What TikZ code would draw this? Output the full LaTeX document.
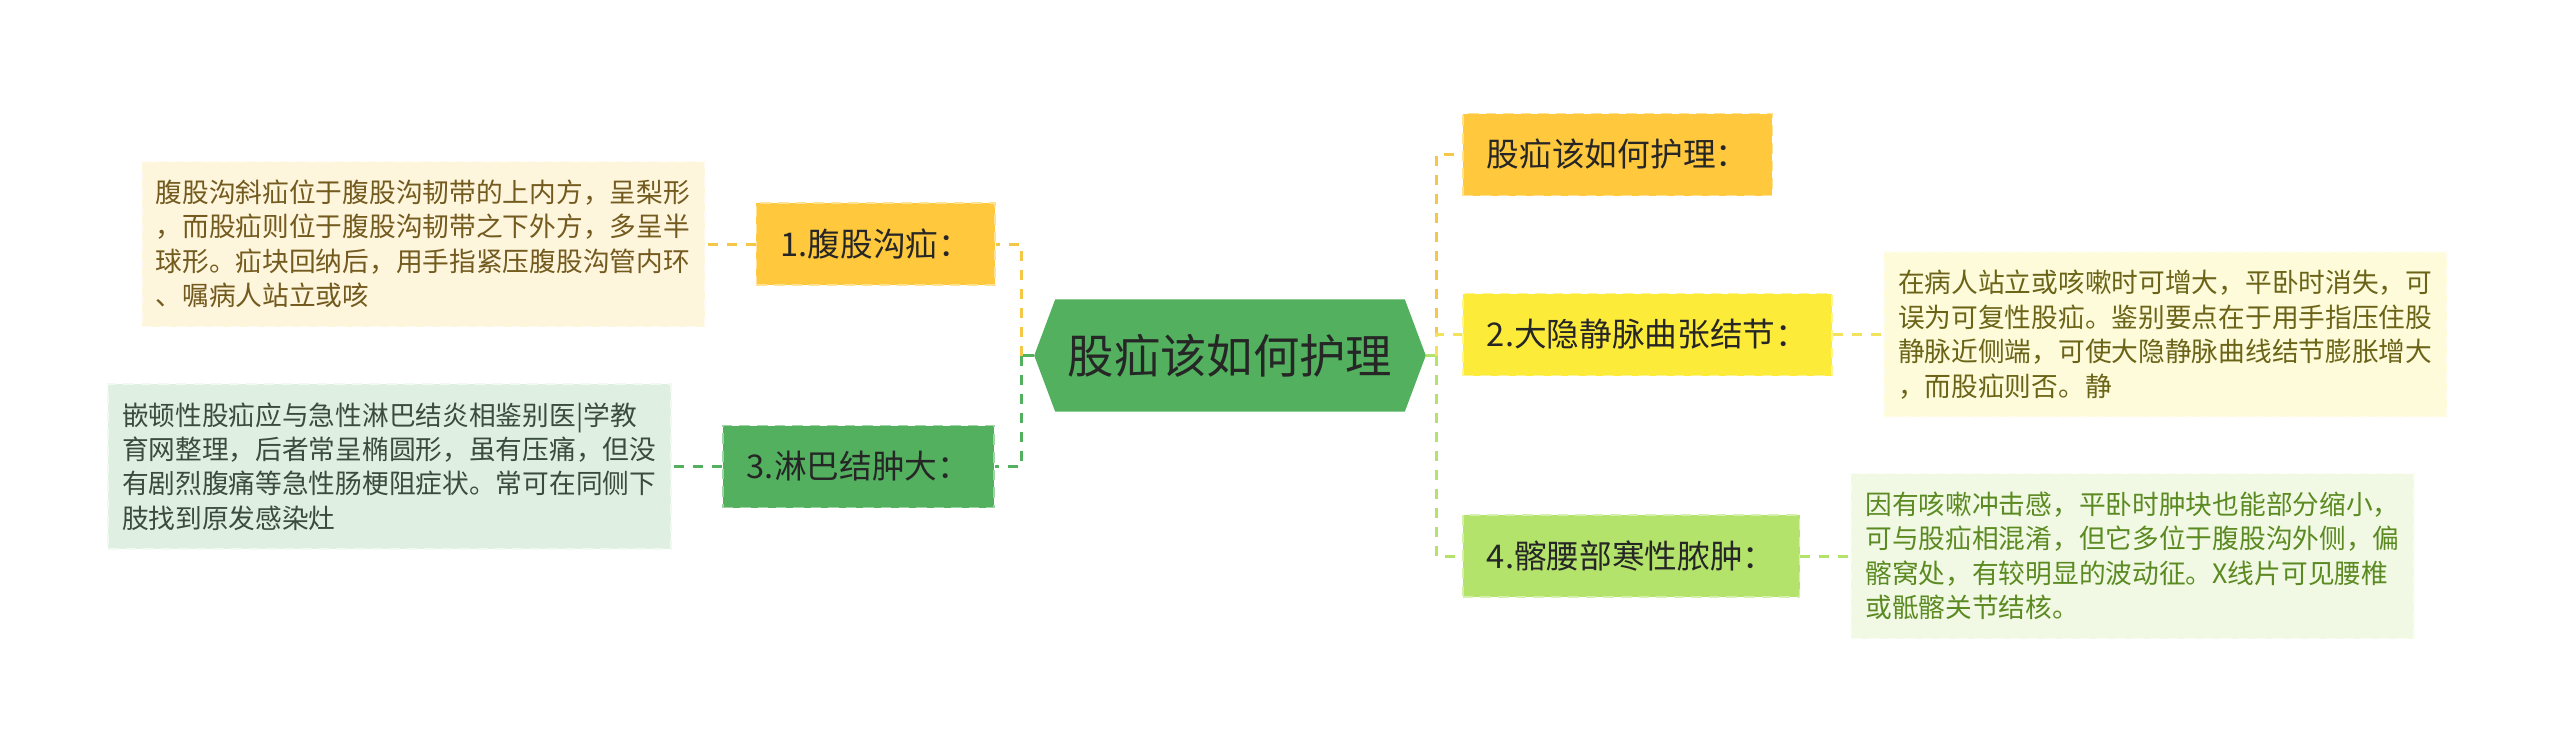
\documentclass[tikz,border=0pt]{standalone}
\usepackage{fontspec}
\usepackage{xcolor}
\usepackage{tikz}
\usetikzlibrary{positioning,backgrounds}
\newfontfamily\cjk{Noto Sans CJK SC}
\definecolor{taggreen}{HTML}{52B05E}
\definecolor{tagorange}{HTML}{FFC83D}
\definecolor{tagyellow}{HTML}{FDEB3A}
\definecolor{taglime}{HTML}{B3E36A}
\definecolor{linkorange}{HTML}{F5C746}
\definecolor{linkyellow}{HTML}{F2E35A}
\definecolor{notecream}{HTML}{FEF5DD}
\definecolor{notemint}{HTML}{DFF0E2}
\definecolor{notelemon}{HTML}{FEFBDA}
\definecolor{notepale}{HTML}{F1F9E4}
\definecolor{inkbrown}{HTML}{735A1E}
\definecolor{inkmoss}{HTML}{3A4D3D}
\definecolor{inkolive}{HTML}{6B6418}
\definecolor{inkleaf}{HTML}{5C8A22}

\begin{document}
\begin{tikzpicture}[node distance=0.5cm, every node/.style={font=\cjk},
    tagbox/.style={fill=#1, draw=#1!55!white, dash pattern=on 3pt off 2pt, line width=0.5pt, minimum height=0.82cm, inner xsep=0.24cm, text=black!85, font=\cjk\fontsize{9.3pt}{11pt}\selectfont},
    notebox/.style 2 args={fill=#1, draw=#1!40!white, dash pattern=on 3pt off 2pt, line width=0.5pt, text=#2, text width=5.35cm, inner xsep=0.14cm, minimum height=1.65cm, align=left, font=\cjk\fontsize{7.6pt}{9.8pt}\selectfont},
    link/.style={dash pattern=on 0.1cm off 0.09cm, line width=0.03cm}]
  \useasboundingbox (0,0) rectangle (25.6,-7.53);
  \node[minimum width=3.33cm, minimum height=1.11cm, text=black!85, font=\cjk\fontsize{13.2pt}{15pt}\selectfont] (hub) at (12.30,-3.555) {股疝该如何护理};
  \coordinate (hubL) at ([xshift=-0.21cm]hub.west);
  \coordinate (hubR) at ([xshift=0.21cm]hub.east);
  \begin{scope}[on background layer]
    \fill[taggreen] (hub.north west) -- (hub.north east) -- (hubR) -- (hub.south east) -- (hub.south west) -- (hubL) -- cycle;
  \end{scope}
  \node[tagbox=tagorange, anchor=east] (n1) at (9.96,-2.44) {1.腹股沟疝：};
  \node[tagbox=taggreen, anchor=east] (n3) at (9.95,-4.665) {3.淋巴结肿大：};
  \node[tagbox=tagorange, anchor=west] (hdr) at (14.62,-1.545) {股疝该如何护理：};
  \node[tagbox=tagyellow, anchor=west] (n2) at (14.62,-3.345) {2.大隐静脉曲张结节：};
  \node[tagbox=taglime, anchor=west] (n4) at (14.62,-5.56) {4.髂腰部寒性脓肿：};
  \node[notebox={notecream}{inkbrown}, left=of n1] (d1) {腹股沟斜疝位于腹股沟韧带的上内方，呈梨形\\，而股疝则位于腹股沟韧带之下外方，多呈半\\球形。疝块回纳后，用手指紧压腹股沟管内环\\、嘱病人站立或咳};
  \node[notebox={notemint}{inkmoss}, left=of n3] (d3) {嵌顿性股疝应与急性淋巴结炎相鉴别医|学教\\育网整理，后者常呈椭圆形，虽有压痛，但没\\有剧烈腹痛等急性肠梗阻症状。常可在同侧下\\肢找到原发感染灶};
  \node[notebox={notelemon}{inkolive}, right=of n2] (d2) {在病人站立或咳嗽时可增大，平卧时消失，可\\误为可复性股疝。鉴别要点在于用手指压住股\\静脉近侧端，可使大隐静脉曲线结节膨胀增大\\，而股疝则否。静};
  \node[notebox={notepale}{inkleaf}, right=of n4] (d4) {因有咳嗽冲击感，平卧时肿块也能部分缩小，\\可与股疝相混淆，但它多位于腹股沟外侧，偏\\髂窝处，有较明显的波动征。X线片可见腰椎\\或骶髂关节结核。};
  \coordinate (jl) at (10.21,-3.555);
  \coordinate (jr) at (14.36,-3.555);
  \draw[taggreen, line width=0.03cm] (hubL) -- (jl);
  \draw[taglime, line width=0.03cm] (hubR) -- (jr);
  \draw[link, linkorange] (jl) |- (n1.east);
  \draw[link, taggreen] (jl) |- (n3.east);
  \draw[link, linkorange] (jr) |- (hdr.west);
  \draw[link, linkyellow] (jr) |- (n2.west);
  \draw[link, taglime] (jr) |- (n4.west);
  \draw[link, linkorange] (n1) -- (d1);
  \draw[link, taggreen] (n3) -- (d3);
  \draw[link, linkyellow] (n2) -- (d2);
  \draw[link, taglime] (n4) -- (d4);
\end{tikzpicture}
\end{document}
